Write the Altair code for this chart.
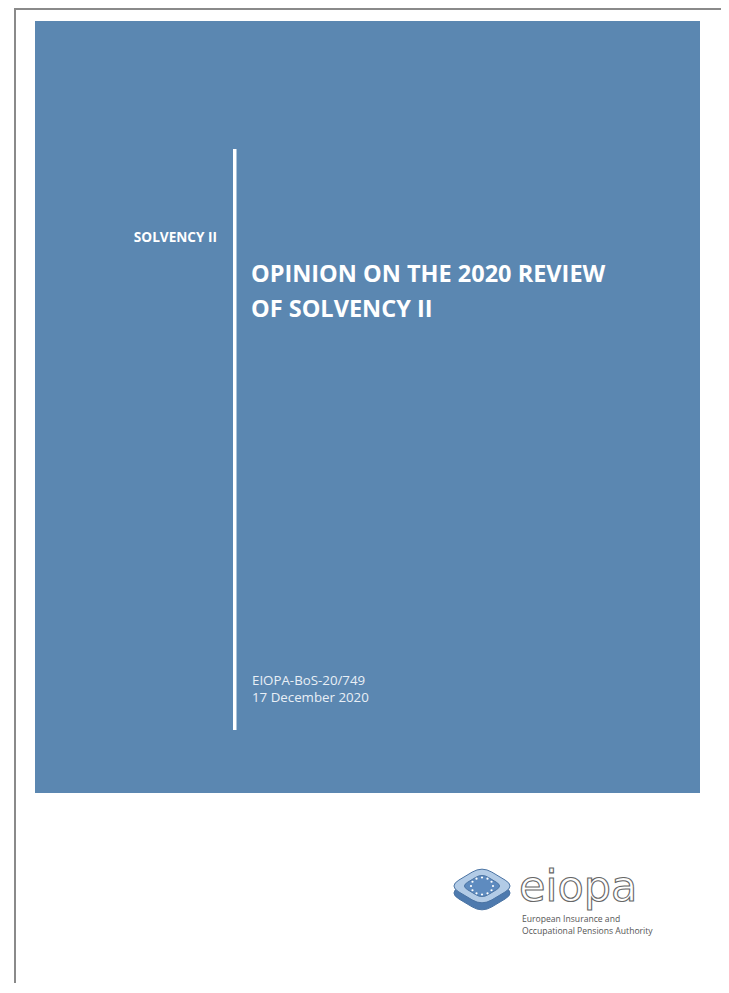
import altair as alt
import pandas as pd

# ---- page geometry (page pixels) ----
W, H = 713, 975
OX, OY = 8, 8

# ---- content ----
panel_x = [35]; panel_x2 = [700]; panel_y = [21]; panel_y2 = [793]
bar_x = [233]; bar_x2 = [236.5]; bar_y = [149]; bar_y2 = [730]

label_text = ["SOLVENCY II"]
label_x = [217]; label_y = [242]

title_lines = ["OPINION ON THE 2020 REVIEW", "OF SOLVENCY II"]
title_x = [251, 251]; title_y = [282, 317]

ref_lines = ["EIOPA-BoS-20/749", "17 December 2020"]
ref_x = [252, 252]; ref_y = [685, 702]

logo_word = ["eiopa"]
logo_word_x = [519]; logo_word_y = [901]

agency_lines = ["European Insurance and", "Occupational Pensions Authority"]
agency_x = [522, 522]; agency_y = [922, 934]

logo_parts = ["base", "face", "inner"]
logo_cx = [482, 482, 482]
logo_cy = [893, 886, 886]
logo_size = [4356, 4356, 1700]
logo_color = ["#4e7aae", "#b2cbe6", "#5e8bbf"]

star_angle = [0, 30, 60, 90, 120, 150, 180, 210, 240, 270, 300, 330]

frame_x = [15]; frame_x2 = [722]; frame_y = [9]; frame_y2 = [1100]

BLUE = "#5b87b1"

xsc = alt.Scale(domain=[OX, OX + W], nice=False, zero=False)
ysc = alt.Scale(domain=[OY + H, OY], nice=False, zero=False)

def X(f="x"):
    return alt.X(f"{f}:Q", scale=xsc, axis=None)

def Y(f="y"):
    return alt.Y(f"{f}:Q", scale=ysc, axis=None)

frame = alt.Chart(pd.DataFrame({"x": frame_x, "x2": frame_x2, "y": frame_y, "y2": frame_y2})).mark_rect(
    fill="white", stroke="#8a8a8a", strokeWidth=2
).encode(x=X(), x2="x2:Q", y=Y(), y2="y2:Q")

panel = alt.Chart(pd.DataFrame({"x": panel_x, "x2": panel_x2, "y": panel_y, "y2": panel_y2})).mark_rect(
    color=BLUE
).encode(x=X(), x2="x2:Q", y=Y(), y2="y2:Q")

bar = alt.Chart(pd.DataFrame({"x": bar_x, "x2": bar_x2, "y": bar_y, "y2": bar_y2})).mark_rect(
    color="white"
).encode(x=X(), x2="x2:Q", y=Y(), y2="y2:Q")

label = alt.Chart(pd.DataFrame({"t": label_text, "x": label_x, "y": label_y})).mark_text(
    align="right", baseline="alphabetic", font="Open Sans", fontWeight="bold", fontSize=13.6, color="white"
).encode(x=X(), y=Y(), text="t:N")

title = alt.Chart(pd.DataFrame({"t": title_lines, "x": title_x, "y": title_y})).mark_text(
    align="left", baseline="alphabetic", font="Open Sans", fontWeight="bold", fontSize=23.5, color="white"
).encode(x=X(), y=Y(), text="t:N")

ref = alt.Chart(pd.DataFrame({"t": ref_lines, "x": ref_x, "y": ref_y})).mark_text(
    align="left", baseline="alphabetic", font="Open Sans", fontSize=13.3, color="#e9eff6"
).encode(x=X(), y=Y(), text="t:N")

DIAMOND = ("M -0.7 -0.18 L -0.3 -0.42 Q 0 -0.6 0.3 -0.42 L 0.7 -0.18 Q 1 0 0.7 0.18 "
           "L 0.3 0.42 Q 0 0.6 -0.3 0.42 L -0.7 0.18 Q -1 0 -0.7 -0.18 Z")

logo = alt.Chart(pd.DataFrame({"p": logo_parts, "x": logo_cx, "y": logo_cy, "s": logo_size, "c": logo_color})).mark_point(
    shape=DIAMOND, filled=True, opacity=1, stroke="#4a73a3", strokeWidth=1
).encode(
    x=X(), y=Y(),
    size=alt.Size("s:Q", scale=None, legend=None),
    color=alt.Color("c:N", scale=None, legend=None),
    order=alt.Order("s:Q", sort="descending"),
)

stars = alt.Chart(pd.DataFrame({"a": star_angle})).transform_calculate(
    x="482 + 11 * cos(datum.a * PI / 180)",
    y="886 + 8.5 * sin(datum.a * PI / 180)",
).mark_point(shape="circle", filled=True, color="white", opacity=1, size=5).encode(x=X(), y=Y())

word = alt.Chart(pd.DataFrame({"t": logo_word, "x": logo_word_x, "y": logo_word_y})).mark_text(
    align="left", baseline="alphabetic", font="DejaVu Sans", fontSize=43, fill="white",
    stroke="#666666", strokeWidth=1.1
).encode(x=X(), y=Y(), text="t:N")

agency = alt.Chart(pd.DataFrame({"t": agency_lines, "x": agency_x, "y": agency_y})).mark_text(
    align="left", baseline="alphabetic", font="Open Sans", fontSize=8.6, color="#555555"
).encode(x=X(), y=Y(), text="t:N")

chart = alt.layer(frame, panel, bar, label, title, ref, logo, stars, word, agency).properties(
    width=W, height=H, padding=0, autosize=alt.AutoSizeParams(type="none"), background="white"
).configure_view(stroke=None)

chart.save("out.html", embed_options={"renderer": "svg", "actions": False})
